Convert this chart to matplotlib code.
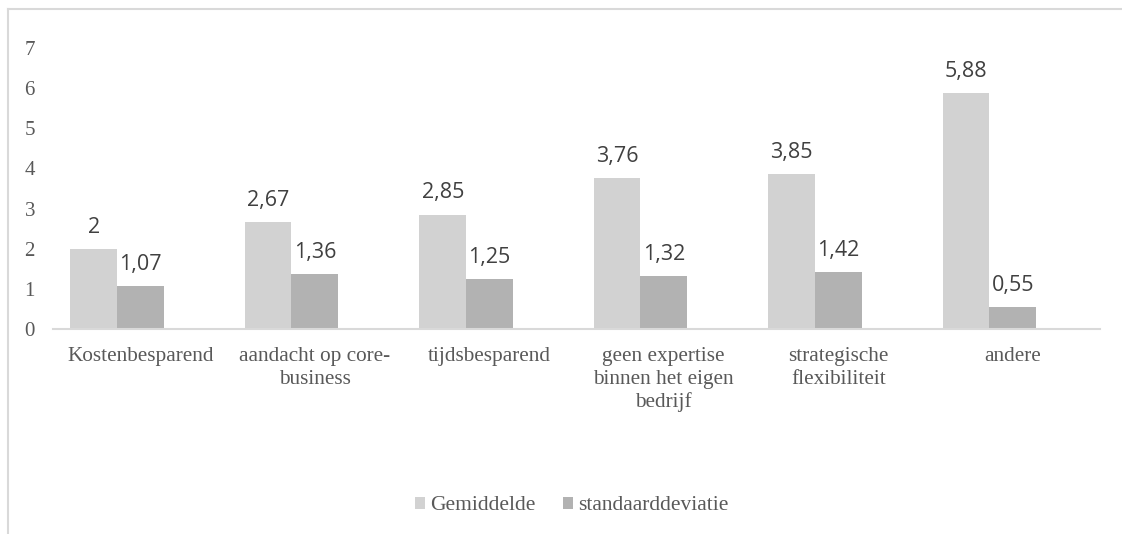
import matplotlib.pyplot as plt
import numpy as np
from matplotlib.lines import Line2D

# Reasons for outsourcing: mean score and standard deviation
categories = ['Kostenbesparend', 'aandacht op core-\nbusiness', 'tijdsbesparend',
              'geen expertise\nbinnen het eigen\nbedrijf', 'strategische\nflexibiliteit', 'andere']
gemiddelde = [2, 2.67, 2.85, 3.76, 3.85, 5.88]
standaarddeviatie = [1.07, 1.36, 1.25, 1.32, 1.42, 0.55]
yticks = [0, 1, 2, 3, 4, 5, 6, 7]

serif = 'Liberation Serif'
sans = 'Open Sans'
light = '#d2d2d2'
dark = '#b2b2b2'

fig = plt.figure(figsize=(11.22, 5.34), dpi=100)
ax = fig.add_axes([53 / 1122, 1 - 329 / 534, (1100 - 53) / 1122, (329 - 48) / 534])

x = np.arange(len(categories))
w = 0.2665  # three slots per category, the third one stays empty
b1 = ax.bar(x - w, gemiddelde, w, color=light, label='Gemiddelde')
b2 = ax.bar(x, standaarddeviatie, w, color=dark, label='standaarddeviatie')

def fmt(v):
    s = f'{v:.2f}'.rstrip('0').rstrip('.')
    return s.replace('.', ',')

for bars, vals in [(b1, gemiddelde), (b2, standaarddeviatie)]:
    for bar, v in zip(bars, vals):
        ax.annotate(fmt(v), (bar.get_x() + bar.get_width() / 2, v),
                    xytext=(0, 8), textcoords='offset points',
                    ha='center', va='bottom', fontsize=15.5,
                    family=sans, color='#404040')

ax.set_xlim(-0.5, len(categories) - 0.5)
ax.set_ylim(0, 7)
ax.set_yticks(yticks)
ax.set_yticklabels([str(t) for t in yticks], family=serif, fontsize=15, color='#595959')
ax.set_xticks(x)
ax.set_xticklabels(categories, family=serif, fontsize=15.3, color='#595959',
                   linespacing=1.25, va='top')
ax.tick_params(axis='both', length=0)
ax.tick_params(axis='y', pad=13)
ax.tick_params(axis='x', pad=13)

for s in ['top', 'right', 'left']:
    ax.spines[s].set_visible(False)
ax.spines['bottom'].set_color('#d9d9d9')
ax.spines['bottom'].set_linewidth(1.5)

leg = fig.legend(handles=[b1, b2], loc='center', bbox_to_anchor=(572 / 1122, 1 - 506 / 534),
                 ncol=2, frameon=False, handlelength=0.45, handleheight=0.45,
                 handletextpad=0.25, columnspacing=1.3,
                 prop={'family': serif, 'size': 15.5})
for t in leg.get_texts():
    t.set_color('#595959')

# chart area border (top and left edges)
bx = 8 / 1122
by = 1 - 9 / 534
fig.add_artist(Line2D([bx, 1], [by, by], transform=fig.transFigure, color='#d9d9d9', lw=1.5))
fig.add_artist(Line2D([bx, bx], [by, 0], transform=fig.transFigure, color='#d9d9d9', lw=1.5))

fig.savefig('out.png', dpi=100)
